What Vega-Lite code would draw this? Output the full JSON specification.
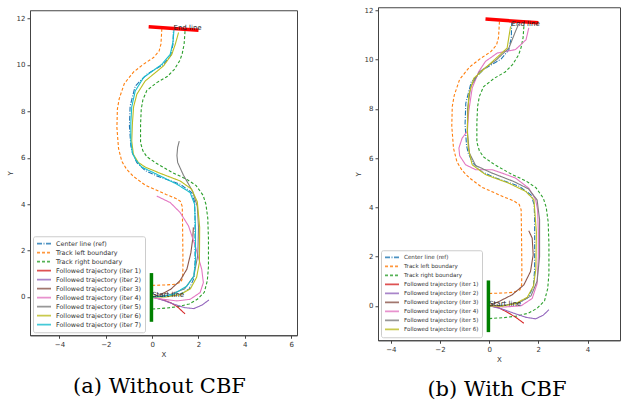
{
"$schema":"https://vega.github.io/schema/vega-lite/v6.json",
"padding":{"left":5,"top":5,"right":0,"bottom":0},
"background":"white",
"center":true,
"spacing":55,
"config":{
 "font":"DejaVu Sans",
 "view":{"stroke":"#444","strokeWidth":1},
 "axis":{"labelFont":"DejaVu Sans","labelFontSize":7,"labelColor":"#333","tickColor":"#444","domainColor":"#444","tickSize":3,"titleFont":"DejaVu Sans","titleFontSize":7,"titleFontWeight":"normal","titleColor":"#333","grid":false,"labelPadding":2},
 "axisX":{"titlePadding":3},
 "axisY":{"titlePadding":3},
 "legend":{"orient":"bottom-left","offset":3,"fillColor":"white","strokeColor":"#cccccc","padding":3,"cornerRadius":2,"labelFont":"DejaVu Sans","labelFontSize":6.3,"labelColor":"#333","symbolType":"stroke","symbolSize":196,"symbolStrokeWidth":1.8,"clipHeight":9,"rowPadding":0,"labelOffset":4,"labelLimit":200,"symbolOpacity":0.8}
},
"resolve":{"scale":{"x":"independent","y":"independent","color":"independent","strokeDash":"independent"},"legend":{"color":"independent","strokeDash":"independent"}},
"datasets":{
 "track":[
  {"s":"Center line (ref)","i":0,"x":0,"y":0},{"s":"Center line (ref)","i":1,"x":0.6,"y":0.02},{"s":"Center line (ref)","i":2,"x":1.2,"y":0.12},{"s":"Center line (ref)","i":3,"x":1.6,"y":0.35},{"s":"Center line (ref)","i":4,"x":1.8,"y":0.8},{"s":"Center line (ref)","i":5,"x":1.85,"y":1.5},{"s":"Center line (ref)","i":6,"x":1.85,"y":2.5},{"s":"Center line (ref)","i":7,"x":1.85,"y":3.5},{"s":"Center line (ref)","i":8,"x":1.83,"y":4.1},{"s":"Center line (ref)","i":9,"x":1.71,"y":4.5},{"s":"Center line (ref)","i":10,"x":1.21,"y":4.86},{"s":"Center line (ref)","i":11,"x":0.2,"y":5.22},{"s":"Center line (ref)","i":12,"x":-0.3,"y":5.45},{"s":"Center line (ref)","i":13,"x":-0.66,"y":5.79},{"s":"Center line (ref)","i":14,"x":-0.85,"y":6.2},{"s":"Center line (ref)","i":15,"x":-0.92,"y":6.51},{"s":"Center line (ref)","i":16,"x":-0.98,"y":7.37},{"s":"Center line (ref)","i":17,"x":-0.95,"y":8.23},{"s":"Center line (ref)","i":18,"x":-0.73,"y":9.09},{"s":"Center line (ref)","i":19,"x":-0.23,"y":9.6},{"s":"Center line (ref)","i":20,"x":0.49,"y":10.03},{"s":"Center line (ref)","i":21,"x":0.8,"y":10.4},{"s":"Center line (ref)","i":22,"x":0.9,"y":10.9},{"s":"Center line (ref)","i":23,"x":0.92,"y":11.6},
  {"s":"Track left boundary","i":0,"x":0,"y":0.5},{"s":"Track left boundary","i":1,"x":0.6,"y":0.52},{"s":"Track left boundary","i":2,"x":1.0,"y":0.55},{"s":"Track left boundary","i":3,"x":1.25,"y":0.65},{"s":"Track left boundary","i":4,"x":1.32,"y":0.85},{"s":"Track left boundary","i":5,"x":1.33,"y":1.5},{"s":"Track left boundary","i":6,"x":1.32,"y":2.5},{"s":"Track left boundary","i":7,"x":1.31,"y":3.3},{"s":"Track left boundary","i":8,"x":1.3,"y":3.9},{"s":"Track left boundary","i":9,"x":1.22,"y":4.12},{"s":"Track left boundary","i":10,"x":1.0,"y":4.26},{"s":"Track left boundary","i":11,"x":0.6,"y":4.42},{"s":"Track left boundary","i":12,"x":0.2,"y":4.6},{"s":"Track left boundary","i":13,"x":-0.3,"y":4.82},{"s":"Track left boundary","i":14,"x":-0.81,"y":5.2},{"s":"Track left boundary","i":15,"x":-1.1,"y":5.5},{"s":"Track left boundary","i":16,"x":-1.31,"y":5.85},{"s":"Track left boundary","i":17,"x":-1.45,"y":6.4},{"s":"Track left boundary","i":18,"x":-1.52,"y":7.3},{"s":"Track left boundary","i":19,"x":-1.5,"y":8.1},{"s":"Track left boundary","i":20,"x":-1.42,"y":8.55},{"s":"Track left boundary","i":21,"x":-1.2,"y":9.2},{"s":"Track left boundary","i":22,"x":-0.8,"y":9.7},{"s":"Track left boundary","i":23,"x":-0.35,"y":10.05},{"s":"Track left boundary","i":24,"x":0.06,"y":10.32},{"s":"Track left boundary","i":25,"x":0.3,"y":10.6},{"s":"Track left boundary","i":26,"x":0.38,"y":10.9},{"s":"Track left boundary","i":27,"x":0.42,"y":11.58},
  {"s":"Track right boundary","i":0,"x":0,"y":-0.52},{"s":"Track right boundary","i":1,"x":0.6,"y":-0.48},{"s":"Track right boundary","i":2,"x":1.1,"y":-0.42},{"s":"Track right boundary","i":3,"x":1.6,"y":-0.3},{"s":"Track right boundary","i":4,"x":1.95,"y":-0.1},{"s":"Track right boundary","i":5,"x":2.25,"y":0.2},{"s":"Track right boundary","i":6,"x":2.38,"y":0.7},{"s":"Track right boundary","i":7,"x":2.43,"y":1.3},{"s":"Track right boundary","i":8,"x":2.43,"y":2.5},{"s":"Track right boundary","i":9,"x":2.4,"y":3.4},{"s":"Track right boundary","i":10,"x":2.32,"y":4.0},{"s":"Track right boundary","i":11,"x":2.2,"y":4.38},{"s":"Track right boundary","i":12,"x":1.9,"y":4.8},{"s":"Track right boundary","i":13,"x":1.5,"y":5.07},{"s":"Track right boundary","i":14,"x":0.9,"y":5.35},{"s":"Track right boundary","i":15,"x":0.2,"y":5.75},{"s":"Track right boundary","i":16,"x":-0.23,"y":6.05},{"s":"Track right boundary","i":17,"x":-0.4,"y":6.3},{"s":"Track right boundary","i":18,"x":-0.5,"y":6.65},{"s":"Track right boundary","i":19,"x":-0.5,"y":7.44},{"s":"Track right boundary","i":20,"x":-0.47,"y":8.1},{"s":"Track right boundary","i":21,"x":-0.4,"y":8.5},{"s":"Track right boundary","i":22,"x":-0.23,"y":8.9},{"s":"Track right boundary","i":23,"x":0.2,"y":9.24},{"s":"Track right boundary","i":24,"x":0.65,"y":9.5},{"s":"Track right boundary","i":25,"x":0.95,"y":9.8},{"s":"Track right boundary","i":26,"x":1.2,"y":10.2},{"s":"Track right boundary","i":27,"x":1.3,"y":10.5},{"s":"Track right boundary","i":28,"x":1.38,"y":10.9},{"s":"Track right boundary","i":29,"x":1.42,"y":11.47}
 ],
 "traj":[
  {"p":"a","s":"Followed trajectory (iter 1)","i":0,"x":0,"y":0},{"p":"a","s":"Followed trajectory (iter 1)","i":1,"x":0.4,"y":-0.1},{"p":"a","s":"Followed trajectory (iter 1)","i":2,"x":0.8,"y":-0.25},{"p":"a","s":"Followed trajectory (iter 1)","i":3,"x":1.1,"y":-0.43},{"p":"a","s":"Followed trajectory (iter 1)","i":4,"x":1.42,"y":-0.73},
  {"p":"a","s":"Followed trajectory (iter 2)","i":0,"x":0,"y":0},{"p":"a","s":"Followed trajectory (iter 2)","i":1,"x":0.5,"y":-0.15},{"p":"a","s":"Followed trajectory (iter 2)","i":2,"x":1.0,"y":-0.33},{"p":"a","s":"Followed trajectory (iter 2)","i":3,"x":1.4,"y":-0.46},{"p":"a","s":"Followed trajectory (iter 2)","i":4,"x":1.8,"y":-0.5},{"p":"a","s":"Followed trajectory (iter 2)","i":5,"x":2.15,"y":-0.35},{"p":"a","s":"Followed trajectory (iter 2)","i":6,"x":2.45,"y":-0.13},
  {"p":"a","s":"Followed trajectory (iter 3)","i":0,"x":0,"y":0},{"p":"a","s":"Followed trajectory (iter 3)","i":1,"x":0.4,"y":0.12},{"p":"a","s":"Followed trajectory (iter 3)","i":2,"x":0.8,"y":0.33},{"p":"a","s":"Followed trajectory (iter 3)","i":3,"x":1.2,"y":0.7},{"p":"a","s":"Followed trajectory (iter 3)","i":4,"x":1.5,"y":1.2},{"p":"a","s":"Followed trajectory (iter 3)","i":5,"x":1.67,"y":1.9},{"p":"a","s":"Followed trajectory (iter 3)","i":6,"x":1.75,"y":2.5},{"p":"a","s":"Followed trajectory (iter 3)","i":7,"x":1.78,"y":3.0},
  {"p":"a","s":"Followed trajectory (iter 4)","i":0,"x":0,"y":-0.03},{"p":"a","s":"Followed trajectory (iter 4)","i":1,"x":0.49,"y":-0.1},{"p":"a","s":"Followed trajectory (iter 4)","i":2,"x":1.07,"y":-0.17},{"p":"a","s":"Followed trajectory (iter 4)","i":3,"x":1.64,"y":-0.1},{"p":"a","s":"Followed trajectory (iter 4)","i":4,"x":2.07,"y":0.19},{"p":"a","s":"Followed trajectory (iter 4)","i":5,"x":2.21,"y":0.62},{"p":"a","s":"Followed trajectory (iter 4)","i":6,"x":2.14,"y":1.19},{"p":"a","s":"Followed trajectory (iter 4)","i":7,"x":1.86,"y":2.2},{"p":"a","s":"Followed trajectory (iter 4)","i":8,"x":1.57,"y":3.06},{"p":"a","s":"Followed trajectory (iter 4)","i":9,"x":1.21,"y":3.64},{"p":"a","s":"Followed trajectory (iter 4)","i":10,"x":0.78,"y":4.07},{"p":"a","s":"Followed trajectory (iter 4)","i":11,"x":0.2,"y":4.35},
  {"p":"a","s":"Followed trajectory (iter 5)","i":0,"x":0,"y":0},{"p":"a","s":"Followed trajectory (iter 5)","i":1,"x":0.7,"y":0.08},{"p":"a","s":"Followed trajectory (iter 5)","i":2,"x":1.4,"y":0.35},{"p":"a","s":"Followed trajectory (iter 5)","i":3,"x":1.8,"y":0.9},{"p":"a","s":"Followed trajectory (iter 5)","i":4,"x":1.97,"y":1.8},{"p":"a","s":"Followed trajectory (iter 5)","i":5,"x":2.0,"y":3.0},{"p":"a","s":"Followed trajectory (iter 5)","i":6,"x":1.95,"y":3.9},{"p":"a","s":"Followed trajectory (iter 5)","i":7,"x":1.75,"y":4.55},{"p":"a","s":"Followed trajectory (iter 5)","i":8,"x":1.35,"y":5.25},{"p":"a","s":"Followed trajectory (iter 5)","i":9,"x":1.1,"y":5.8},{"p":"a","s":"Followed trajectory (iter 5)","i":10,"x":1.07,"y":6.1},{"p":"a","s":"Followed trajectory (iter 5)","i":11,"x":1.1,"y":6.45},{"p":"a","s":"Followed trajectory (iter 5)","i":12,"x":1.17,"y":6.72},
  {"p":"a","s":"Followed trajectory (iter 6)","i":0,"x":0,"y":0},{"p":"a","s":"Followed trajectory (iter 6)","i":1,"x":0.6,"y":0.0},{"p":"a","s":"Followed trajectory (iter 6)","i":2,"x":1.2,"y":0.1},{"p":"a","s":"Followed trajectory (iter 6)","i":3,"x":1.65,"y":0.35},{"p":"a","s":"Followed trajectory (iter 6)","i":4,"x":1.92,"y":0.85},{"p":"a","s":"Followed trajectory (iter 6)","i":5,"x":2.04,"y":1.5},{"p":"a","s":"Followed trajectory (iter 6)","i":6,"x":2.05,"y":3.0},{"p":"a","s":"Followed trajectory (iter 6)","i":7,"x":1.95,"y":4.1},{"p":"a","s":"Followed trajectory (iter 6)","i":8,"x":1.7,"y":4.65},{"p":"a","s":"Followed trajectory (iter 6)","i":9,"x":1.21,"y":5.0},{"p":"a","s":"Followed trajectory (iter 6)","i":10,"x":0.35,"y":5.33},{"p":"a","s":"Followed trajectory (iter 6)","i":11,"x":-0.3,"y":5.6},{"p":"a","s":"Followed trajectory (iter 6)","i":12,"x":-0.6,"y":5.8},{"p":"a","s":"Followed trajectory (iter 6)","i":13,"x":-0.81,"y":6.15},{"p":"a","s":"Followed trajectory (iter 6)","i":14,"x":-0.88,"y":6.72},{"p":"a","s":"Followed trajectory (iter 6)","i":15,"x":-0.85,"y":7.5},{"p":"a","s":"Followed trajectory (iter 6)","i":16,"x":-0.8,"y":8.2},{"p":"a","s":"Followed trajectory (iter 6)","i":17,"x":-0.66,"y":8.74},{"p":"a","s":"Followed trajectory (iter 6)","i":18,"x":-0.3,"y":9.31},{"p":"a","s":"Followed trajectory (iter 6)","i":19,"x":0.49,"y":9.96},{"p":"a","s":"Followed trajectory (iter 6)","i":20,"x":0.85,"y":10.46},{"p":"a","s":"Followed trajectory (iter 6)","i":21,"x":1.0,"y":10.9},{"p":"a","s":"Followed trajectory (iter 6)","i":22,"x":1.14,"y":11.4},
  {"p":"a","s":"Followed trajectory (iter 7)","i":0,"x":0,"y":0},{"p":"a","s":"Followed trajectory (iter 7)","i":1,"x":0.5,"y":0.03},{"p":"a","s":"Followed trajectory (iter 7)","i":2,"x":0.92,"y":0.12},{"p":"a","s":"Followed trajectory (iter 7)","i":3,"x":1.5,"y":0.47},{"p":"a","s":"Followed trajectory (iter 7)","i":4,"x":1.8,"y":0.9},{"p":"a","s":"Followed trajectory (iter 7)","i":5,"x":1.87,"y":1.5},{"p":"a","s":"Followed trajectory (iter 7)","i":6,"x":1.87,"y":3.0},{"p":"a","s":"Followed trajectory (iter 7)","i":7,"x":1.83,"y":4.0},{"p":"a","s":"Followed trajectory (iter 7)","i":8,"x":1.64,"y":4.5},{"p":"a","s":"Followed trajectory (iter 7)","i":9,"x":1.07,"y":4.86},{"p":"a","s":"Followed trajectory (iter 7)","i":10,"x":0.2,"y":5.29},{"p":"a","s":"Followed trajectory (iter 7)","i":11,"x":-0.45,"y":5.6},{"p":"a","s":"Followed trajectory (iter 7)","i":12,"x":-0.7,"y":5.9},{"p":"a","s":"Followed trajectory (iter 7)","i":13,"x":-0.85,"y":6.2},{"p":"a","s":"Followed trajectory (iter 7)","i":14,"x":-0.92,"y":6.72},{"p":"a","s":"Followed trajectory (iter 7)","i":15,"x":-0.92,"y":7.5},{"p":"a","s":"Followed trajectory (iter 7)","i":16,"x":-0.88,"y":8.2},{"p":"a","s":"Followed trajectory (iter 7)","i":17,"x":-0.73,"y":8.88},{"p":"a","s":"Followed trajectory (iter 7)","i":18,"x":-0.37,"y":9.46},{"p":"a","s":"Followed trajectory (iter 7)","i":19,"x":0.42,"y":10.03},{"p":"a","s":"Followed trajectory (iter 7)","i":20,"x":0.78,"y":10.46},{"p":"a","s":"Followed trajectory (iter 7)","i":21,"x":0.9,"y":11.0},{"p":"a","s":"Followed trajectory (iter 7)","i":22,"x":0.95,"y":11.6},
  {"p":"b","s":"Followed trajectory (iter 1)","i":0,"x":0,"y":0},{"p":"b","s":"Followed trajectory (iter 1)","i":1,"x":0.4,"y":-0.08},{"p":"b","s":"Followed trajectory (iter 1)","i":2,"x":0.8,"y":-0.3},{"p":"b","s":"Followed trajectory (iter 1)","i":3,"x":1.1,"y":-0.48},{"p":"b","s":"Followed trajectory (iter 1)","i":4,"x":1.41,"y":-0.71},
  {"p":"b","s":"Followed trajectory (iter 2)","i":0,"x":0,"y":0},{"p":"b","s":"Followed trajectory (iter 2)","i":1,"x":0.5,"y":-0.12},{"p":"b","s":"Followed trajectory (iter 2)","i":2,"x":1.0,"y":-0.3},{"p":"b","s":"Followed trajectory (iter 2)","i":3,"x":1.5,"y":-0.47},{"p":"b","s":"Followed trajectory (iter 2)","i":4,"x":1.89,"y":-0.53},{"p":"b","s":"Followed trajectory (iter 2)","i":5,"x":2.2,"y":-0.38},{"p":"b","s":"Followed trajectory (iter 2)","i":6,"x":2.43,"y":-0.16},
  {"p":"b","s":"Followed trajectory (iter 3)","i":0,"x":0,"y":0},{"p":"b","s":"Followed trajectory (iter 3)","i":1,"x":0.39,"y":0.17},{"p":"b","s":"Followed trajectory (iter 3)","i":2,"x":0.94,"y":0.45},{"p":"b","s":"Followed trajectory (iter 3)","i":3,"x":1.41,"y":0.85},{"p":"b","s":"Followed trajectory (iter 3)","i":4,"x":1.68,"y":1.39},{"p":"b","s":"Followed trajectory (iter 3)","i":5,"x":1.79,"y":2.07},{"p":"b","s":"Followed trajectory (iter 3)","i":6,"x":1.75,"y":2.75},{"p":"b","s":"Followed trajectory (iter 3)","i":7,"x":1.61,"y":3.05},
  {"p":"b","s":"Followed trajectory (iter 4)","i":0,"x":0,"y":0},{"p":"b","s":"Followed trajectory (iter 4)","i":1,"x":0.6,"y":-0.05},{"p":"b","s":"Followed trajectory (iter 4)","i":2,"x":1.3,"y":0.0},{"p":"b","s":"Followed trajectory (iter 4)","i":3,"x":1.75,"y":0.3},{"p":"b","s":"Followed trajectory (iter 4)","i":4,"x":1.95,"y":0.9},{"p":"b","s":"Followed trajectory (iter 4)","i":5,"x":2.0,"y":2.0},{"p":"b","s":"Followed trajectory (iter 4)","i":6,"x":2.0,"y":3.0},{"p":"b","s":"Followed trajectory (iter 4)","i":7,"x":1.97,"y":3.9},{"p":"b","s":"Followed trajectory (iter 4)","i":8,"x":1.89,"y":4.31},{"p":"b","s":"Followed trajectory (iter 4)","i":9,"x":1.61,"y":4.78},{"p":"b","s":"Followed trajectory (iter 4)","i":10,"x":1.07,"y":5.19},{"p":"b","s":"Followed trajectory (iter 4)","i":11,"x":0.53,"y":5.39},{"p":"b","s":"Followed trajectory (iter 4)","i":12,"x":0.12,"y":5.53},{"p":"b","s":"Followed trajectory (iter 4)","i":13,"x":-0.55,"y":5.53},{"p":"b","s":"Followed trajectory (iter 4)","i":14,"x":-0.96,"y":5.73},{"p":"b","s":"Followed trajectory (iter 4)","i":15,"x":-1.2,"y":6.1},{"p":"b","s":"Followed trajectory (iter 4)","i":16,"x":-1.23,"y":6.41},{"p":"b","s":"Followed trajectory (iter 4)","i":17,"x":-1.1,"y":6.81},{"p":"b","s":"Followed trajectory (iter 4)","i":18,"x":-0.89,"y":7.09},{"p":"b","s":"Followed trajectory (iter 4)","i":19,"x":-0.83,"y":7.9},{"p":"b","s":"Followed trajectory (iter 4)","i":20,"x":-0.69,"y":8.85},{"p":"b","s":"Followed trajectory (iter 4)","i":21,"x":-0.42,"y":9.52},{"p":"b","s":"Followed trajectory (iter 4)","i":22,"x":-0.15,"y":9.93},{"p":"b","s":"Followed trajectory (iter 4)","i":23,"x":0.33,"y":10.27},{"p":"b","s":"Followed trajectory (iter 4)","i":24,"x":1.07,"y":10.41},{"p":"b","s":"Followed trajectory (iter 4)","i":25,"x":1.5,"y":10.81},{"p":"b","s":"Followed trajectory (iter 4)","i":26,"x":1.61,"y":11.29},
  {"p":"b","s":"Followed trajectory (iter 5)","i":0,"x":0,"y":0},{"p":"b","s":"Followed trajectory (iter 5)","i":1,"x":0.5,"y":0.0},{"p":"b","s":"Followed trajectory (iter 5)","i":2,"x":1.2,"y":0.12},{"p":"b","s":"Followed trajectory (iter 5)","i":3,"x":1.7,"y":0.4},{"p":"b","s":"Followed trajectory (iter 5)","i":4,"x":1.95,"y":1.0},{"p":"b","s":"Followed trajectory (iter 5)","i":5,"x":2.05,"y":2.0},{"p":"b","s":"Followed trajectory (iter 5)","i":6,"x":2.05,"y":3.5},{"p":"b","s":"Followed trajectory (iter 5)","i":7,"x":1.95,"y":4.3},{"p":"b","s":"Followed trajectory (iter 5)","i":8,"x":1.6,"y":4.75},{"p":"b","s":"Followed trajectory (iter 5)","i":9,"x":1.0,"y":5.05},{"p":"b","s":"Followed trajectory (iter 5)","i":10,"x":0.1,"y":5.4},{"p":"b","s":"Followed trajectory (iter 5)","i":11,"x":-0.55,"y":5.7},{"p":"b","s":"Followed trajectory (iter 5)","i":12,"x":-0.8,"y":6.2},{"p":"b","s":"Followed trajectory (iter 5)","i":13,"x":-0.88,"y":7.0},{"p":"b","s":"Followed trajectory (iter 5)","i":14,"x":-0.88,"y":8.0},{"p":"b","s":"Followed trajectory (iter 5)","i":15,"x":-0.75,"y":8.9},{"p":"b","s":"Followed trajectory (iter 5)","i":16,"x":-0.4,"y":9.5},{"p":"b","s":"Followed trajectory (iter 5)","i":17,"x":0.3,"y":10.0},{"p":"b","s":"Followed trajectory (iter 5)","i":18,"x":0.8,"y":10.47},{"p":"b","s":"Followed trajectory (iter 5)","i":19,"x":1.07,"y":11.15},{"p":"b","s":"Followed trajectory (iter 5)","i":20,"x":1.2,"y":11.45},
  {"p":"b","s":"Followed trajectory (iter 6)","i":0,"x":0,"y":0},{"p":"b","s":"Followed trajectory (iter 6)","i":1,"x":0.5,"y":-0.02},{"p":"b","s":"Followed trajectory (iter 6)","i":2,"x":1.1,"y":0.1},{"p":"b","s":"Followed trajectory (iter 6)","i":3,"x":1.55,"y":0.35},{"p":"b","s":"Followed trajectory (iter 6)","i":4,"x":1.8,"y":0.8},{"p":"b","s":"Followed trajectory (iter 6)","i":5,"x":1.9,"y":1.5},{"p":"b","s":"Followed trajectory (iter 6)","i":6,"x":1.92,"y":3.0},{"p":"b","s":"Followed trajectory (iter 6)","i":7,"x":1.82,"y":4.31},{"p":"b","s":"Followed trajectory (iter 6)","i":8,"x":1.48,"y":4.65},{"p":"b","s":"Followed trajectory (iter 6)","i":9,"x":0.8,"y":4.98},{"p":"b","s":"Followed trajectory (iter 6)","i":10,"x":-0.15,"y":5.33},{"p":"b","s":"Followed trajectory (iter 6)","i":11,"x":-0.69,"y":5.73},{"p":"b","s":"Followed trajectory (iter 6)","i":12,"x":-0.85,"y":6.41},{"p":"b","s":"Followed trajectory (iter 6)","i":13,"x":-0.89,"y":7.22},{"p":"b","s":"Followed trajectory (iter 6)","i":14,"x":-0.83,"y":8.58},{"p":"b","s":"Followed trajectory (iter 6)","i":15,"x":-0.62,"y":9.25},{"p":"b","s":"Followed trajectory (iter 6)","i":16,"x":0,"y":9.8},{"p":"b","s":"Followed trajectory (iter 6)","i":17,"x":0.73,"y":10.47},{"p":"b","s":"Followed trajectory (iter 6)","i":18,"x":0.87,"y":11.35}
 ],
 "gates":[
  {"g":"start","x":-0.03,"y":-1.07},{"g":"start","x":-0.03,"y":1.03},
  {"g":"end","x":-0.15,"y":11.65},{"g":"end","x":2.0,"y":11.5}
 ],
 "labels":[
  {"p":"a","t":"Start line","x":0.0,"y":-0.02},{"p":"a","t":"End line","x":0.92,"y":11.52},
  {"p":"b","t":"Start line","x":0.0,"y":-0.02},{"p":"b","t":"End line","x":0.91,"y":11.37}
 ]
},
"hconcat":[
 {
  "width":267,"height":325,
  "title":{"text":"(a) Without CBF","orient":"bottom","font":"DejaVu Serif","fontSize":21,"fontWeight":"normal","color":"black","offset":19,"anchor":"middle","dx":-4},
  "layer":[
   {"data":{"name":"track"},"mark":{"type":"line","strokeWidth":1.1},
    "encoding":{
     "x":{"field":"x","type":"quantitative","scale":{"domain":[-5.27,6.25],"nice":false,"zero":false},"axis":{"values":[-4,-2,0,2,4,6],"title":"X"}},
     "y":{"field":"y","type":"quantitative","scale":{"domain":[-1.65,12.36],"nice":false,"zero":false},"axis":{"values":[0,2,4,6,8,10,12],"title":"Y"}},
     "order":{"field":"i","type":"quantitative"},
     "color":{"field":"s","type":"nominal","title":null,"legend":{"labelFontSize":6.4,"clipHeight":8.9},"scale":{"domain":["Center line (ref)","Track left boundary","Track right boundary","Followed trajectory (iter 1)","Followed trajectory (iter 2)","Followed trajectory (iter 3)","Followed trajectory (iter 4)","Followed trajectory (iter 5)","Followed trajectory (iter 6)","Followed trajectory (iter 7)"],"range":["#1f77b4","#ff7f0e","#2ca02c","#d62728","#9467bd","#8c564b","#e377c2","#7f7f7f","#bcbd22","#17becf"]}},
     "strokeDash":{"field":"s","type":"nominal","title":null,"legend":{"labelFontSize":6.4,"clipHeight":8.9},"scale":{"domain":["Center line (ref)","Track left boundary","Track right boundary","Followed trajectory (iter 1)","Followed trajectory (iter 2)","Followed trajectory (iter 3)","Followed trajectory (iter 4)","Followed trajectory (iter 5)","Followed trajectory (iter 6)","Followed trajectory (iter 7)"],"range":[[5,1.5,1,1.5],[3,2],[3,2],[1,0],[1,0],[1,0],[1,0],[1,0],[1,0],[1,0]]}}
    }},
   {"data":{"name":"traj"},"transform":[{"filter":"datum.p=='a'"}],"mark":{"type":"line","strokeWidth":1.1},
    "encoding":{
     "x":{"field":"x","type":"quantitative"},
     "y":{"field":"y","type":"quantitative"},
     "order":{"field":"i","type":"quantitative"},
     "color":{"field":"s","type":"nominal","title":null},
     "strokeDash":{"field":"s","type":"nominal","title":null}
    }},
   {"data":{"name":"gates"},"transform":[{"filter":"datum.g=='start'"}],"mark":{"type":"line","color":"#008000","strokeWidth":3.5},
    "encoding":{"x":{"field":"x","type":"quantitative"},"y":{"field":"y","type":"quantitative"}}},
   {"data":{"name":"gates"},"transform":[{"filter":"datum.g=='end'"}],"mark":{"type":"line","color":"#ff0000","strokeWidth":3.5},
    "encoding":{"x":{"field":"x","type":"quantitative"},"y":{"field":"y","type":"quantitative"}}},
   {"data":{"name":"labels"},"transform":[{"filter":"datum.p=='a'"}],"mark":{"type":"text","align":"left","baseline":"alphabetic","fontSize":7,"color":"#222"},
    "encoding":{"x":{"field":"x","type":"quantitative"},"y":{"field":"y","type":"quantitative"},"text":{"field":"t"}}}
  ]
 },
 {
  "width":242,"height":333,
  "title":{"text":"(b) With CBF","orient":"bottom","font":"DejaVu Serif","fontSize":21,"fontWeight":"normal","color":"black","offset":17,"anchor":"middle","dx":-2},
  "layer":[
   {"data":{"name":"track"},"mark":{"type":"line","strokeWidth":1.1},
    "encoding":{
     "x":{"field":"x","type":"quantitative","scale":{"domain":[-4.52,5.32],"nice":false,"zero":false},"axis":{"values":[-4,-2,0,2,4],"title":"X"}},
     "y":{"field":"y","type":"quantitative","scale":{"domain":[-1.4,12.13],"nice":false,"zero":false},"axis":{"values":[0,2,4,6,8,10,12],"title":"Y"}},
     "order":{"field":"i","type":"quantitative"},
     "color":{"field":"s","type":"nominal","title":null,"legend":{"labelFontSize":5.6,"clipHeight":8.4},"scale":{"domain":["Center line (ref)","Track left boundary","Track right boundary","Followed trajectory (iter 1)","Followed trajectory (iter 2)","Followed trajectory (iter 3)","Followed trajectory (iter 4)","Followed trajectory (iter 5)","Followed trajectory (iter 6)"],"range":["#1f77b4","#ff7f0e","#2ca02c","#d62728","#9467bd","#8c564b","#e377c2","#7f7f7f","#bcbd22"]}},
     "strokeDash":{"field":"s","type":"nominal","title":null,"legend":{"labelFontSize":5.6,"clipHeight":8.4},"scale":{"domain":["Center line (ref)","Track left boundary","Track right boundary","Followed trajectory (iter 1)","Followed trajectory (iter 2)","Followed trajectory (iter 3)","Followed trajectory (iter 4)","Followed trajectory (iter 5)","Followed trajectory (iter 6)"],"range":[[5,1.5,1,1.5],[3,2],[3,2],[1,0],[1,0],[1,0],[1,0],[1,0],[1,0]]}}
    }},
   {"data":{"name":"traj"},"transform":[{"filter":"datum.p=='b'"}],"mark":{"type":"line","strokeWidth":1.1},
    "encoding":{
     "x":{"field":"x","type":"quantitative"},
     "y":{"field":"y","type":"quantitative"},
     "order":{"field":"i","type":"quantitative"},
     "color":{"field":"s","type":"nominal","title":null},
     "strokeDash":{"field":"s","type":"nominal","title":null}
    }},
   {"data":{"name":"gates"},"transform":[{"filter":"datum.g=='start'"}],"mark":{"type":"line","color":"#008000","strokeWidth":3.5},
    "encoding":{"x":{"field":"x","type":"quantitative"},"y":{"field":"y","type":"quantitative"}}},
   {"data":{"name":"gates"},"transform":[{"filter":"datum.g=='end'"}],"mark":{"type":"line","color":"#ff0000","strokeWidth":3.5},
    "encoding":{"x":{"field":"x","type":"quantitative"},"y":{"field":"y","type":"quantitative"}}},
   {"data":{"name":"labels"},"transform":[{"filter":"datum.p=='b'"}],"mark":{"type":"text","align":"left","baseline":"alphabetic","fontSize":7,"color":"#222"},
    "encoding":{"x":{"field":"x","type":"quantitative"},"y":{"field":"y","type":"quantitative"},"text":{"field":"t"}}}
  ]
 }
]
}
